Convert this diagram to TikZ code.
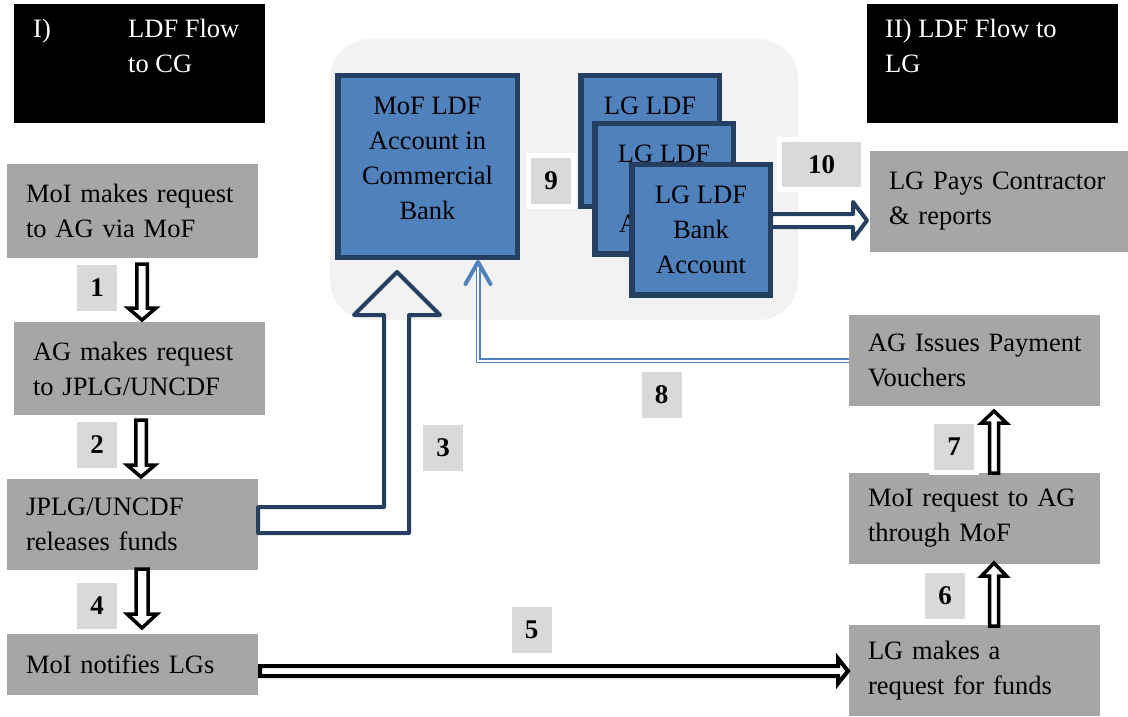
\documentclass[tikz,border=0pt]{standalone}
\usepackage{fontspec}
\setmainfont{Liberation Serif}
\usetikzlibrary{calc}
\definecolor{boxgray}{HTML}{A6A6A6}
\definecolor{lblgray}{HTML}{D9D9D9}
\definecolor{panel}{HTML}{F2F2F2}
\definecolor{bfill}{HTML}{4F81BD}
\definecolor{navy}{HTML}{243F60}
% vertical block arrow: style, from, to, shaft half, head half, head length
\newcommand{\varrow}[6]{%
  \path[#1] let \p1=#2, \p2=#3, \n1={sign(\y2-\y1)} in
  ({\x1-#4},{\y1}) -- ({\x1-#4},{\y2-(#6)*(\n1)}) -- ({\x1-#5},{\y2-(#6)*(\n1)}) --
  ({\x1},{\y2}) -- ({\x1+#5},{\y2-(#6)*(\n1)}) -- ({\x1+#4},{\y2-(#6)*(\n1)}) --
  ({\x1+#4},{\y1}) -- cycle;}
% horizontal block arrow
\newcommand{\harrow}[6]{%
  \path[#1] let \p1=#2, \p2=#3, \n1={sign(\x2-\x1)} in
  ({\x1},{\y1-#4}) -- ({\x2-(#6)*(\n1)},{\y1-#4}) -- ({\x2-(#6)*(\n1)},{\y1-#5}) --
  ({\x2},{\y1}) -- ({\x2-(#6)*(\n1)},{\y1+#5}) -- ({\x2-(#6)*(\n1)},{\y1+#4}) --
  ({\x1},{\y1+#4}) -- cycle;}
\begin{document}
\begin{tikzpicture}[x=1pt,y=-1pt,
  txt/.style={font=\fontsize{26.5}{35}\selectfont},
  gbox/.style={txt, rectangle, fill=boxgray, inner sep=0pt, align=left, text width=251pt,
    execute at begin node={\leftskip=19pt\hyphenpenalty=10000\relax}},
  title/.style={rectangle, fill=black, minimum width=251pt, minimum height=119pt, inner sep=0pt},
  ttext/.style={txt, text=white, anchor=base west, inner sep=0pt},
  lbl/.style={rectangle, fill=lblgray, draw=white, line width=5pt, minimum width=45pt, minimum height=51pt, inner sep=0pt, font=\fontsize{27}{30}\selectfont\bfseries},
  bbox/.style={txt, rectangle, fill=bfill, draw=navy, line width=5.5pt, inner sep=0pt, align=center, minimum width=138.5pt, minimum height=130.5pt},
  blk/.style={draw=black, fill=white, line width=3.5pt, line join=miter},
  nvy/.style={draw=navy, fill=white, line width=4pt, line join=round},
  dbl/.style={draw=bfill, line width=1.5pt, double=white, double distance=2pt},
  chev/.style={draw=bfill, line width=4pt, line cap=round, line join=round}]
\useasboundingbox (0,0) rectangle (1128,717);
\fill[white] (0,0) rectangle (1128,717);

% titles
\node[title] (t1) at (139.5,63.5) {};
\node[ttext] (t1a) at (33,38) {I)};
\node[ttext] (t1b) at (128,38) {LDF Flow};
\node[ttext] (t1c) at (128,73) {to CG};
\node[title] (t2) at (992,63.5) {};
\node[ttext] (t2a) at (885,38) {II) LDF Flow to};
\node[ttext] (t2b) at (885,73) {LG};

% grey panel
\node[fill=panel, rounded corners=40pt, minimum width=468pt, minimum height=281pt, inner sep=0pt] (panel) at (564,179.5) {};

% left column
\node[gbox, minimum height=94pt] (b1) at (132.5,211) {MoI makes request\\to AG via MoF};
\node[gbox, minimum height=93pt] (b2) at (139.5,368.5) {AG makes request\\to JPLG/UNCDF};
\node[gbox, minimum height=91pt] (b3) at (132.5,524.5) {JPLG/UNCDF\\releases funds};
\node[gbox, minimum height=61pt] (b4) at (132.5,664) {MoI notifies LGs};

% right column
\node[gbox, minimum height=91pt] (b5) at (974.5,670.5) {LG makes a\\request for funds};
\node[gbox, minimum height=91pt] (b6) at (974.5,518.5) {MoI request to AG\\through MoF};
\node[gbox, minimum height=91pt] (b7) at (974.5,360.5) {AG Issues Payment\\Vouchers};
\node[gbox, minimum height=101pt, text width=258pt] (b8) at (999,201.5) {LG Pays Contractor\\\& reports};

% blue boxes
\node[bbox, minimum width=179.5pt, minimum height=181.5pt] (mof) at (427.5,166.5) {};
\node[txt, align=center, inner sep=0pt] (moft) at ($(mof.center)+(0,-8)$) {MoF LDF\\Account in\\Commercial\\Bank};
\node[bbox] (lg1) at (650,141) {LG LDF\\Bank\\Account};
\node[bbox] (lg2) at (664,188.5) {LG LDF\\Bank\\Account};
\node[bbox] (lg3) at (701,229.5) {LG LDF\\Bank\\Account};

% step labels
\node[lbl] (l1) at (97,288) {1};
\node[lbl] (l2) at (97,445) {2};
\node[lbl] (l3) at (443,447.5) {3};
\node[lbl] (l4) at (97,605.5) {4};
\node[lbl] (l5) at (531.5,630) {5};
\node[lbl] (l6) at (945,595.5) {6};
\node[lbl] (l7) at (954,446.5) {7};
\node[lbl] (l8) at (661.5,395) {8};
\node[lbl] (l9) at (551,181) {9};
\node[lbl, minimum width=84pt, minimum height=50pt] (l10) at (821.5,164.5) {10};

% arrow end points
\coordinate (a1s) at (142,264);  \coordinate (a1e) at (142,320);
\coordinate (a2s) at (141,420);  \coordinate (a2e) at (141,477);
\coordinate (a4s) at (142,569);  \coordinate (a4e) at (142,628);
\coordinate (a6s) at (994,626);  \coordinate (a6e) at (994,563);
\coordinate (a7s) at (994,473);  \coordinate (a7e) at (994,411);
\coordinate (a5s) at (260,671);  \coordinate (a5e) at (848,671);
\coordinate (a10s) at (771,220.5); \coordinate (a10e) at (867,220.5);
\coordinate (a8tip) at (478,262);

% black block arrows
\varrow{blk}{(a1s)}{(a1e)}{5.25pt}{14pt}{12pt}
\varrow{blk}{(a2s)}{(a2e)}{5.25pt}{14pt}{12pt}
\varrow{blk}{(a4s)}{(a4e)}{6pt}{15pt}{14pt}
\varrow{blk}{(a6s)}{(a6e)}{4.5pt}{12.5pt}{13pt}
\varrow{blk}{(a7s)}{(a7e)}{4.5pt}{12.5pt}{12pt}
\harrow{blk, line width=4pt}{(a5s)}{(a5e)}{5pt}{12.5pt}{10pt}

% navy arrows
\harrow{nvy}{(a10s)}{(a10e)}{6.5pt}{18.5pt}{14pt}
\draw[nvy, fill=none] (b3.east |- 0,507) -- (384,507) -- (384,315) -- (354,315) -- (397,272)
  -- (440,315) -- (409,315) -- (409,533) -- (b3.east |- 0,533) -- cycle;

% blue double arrow 8
\draw[dbl] (b7.west) -- (b7.west -| a8tip) -- ($(a8tip)+(0,2)$);
\draw[chev] ($(a8tip)+(-12.5,22)$) -- (a8tip) -- ($(a8tip)+(12.5,22)$);
\end{tikzpicture}
\end{document}
